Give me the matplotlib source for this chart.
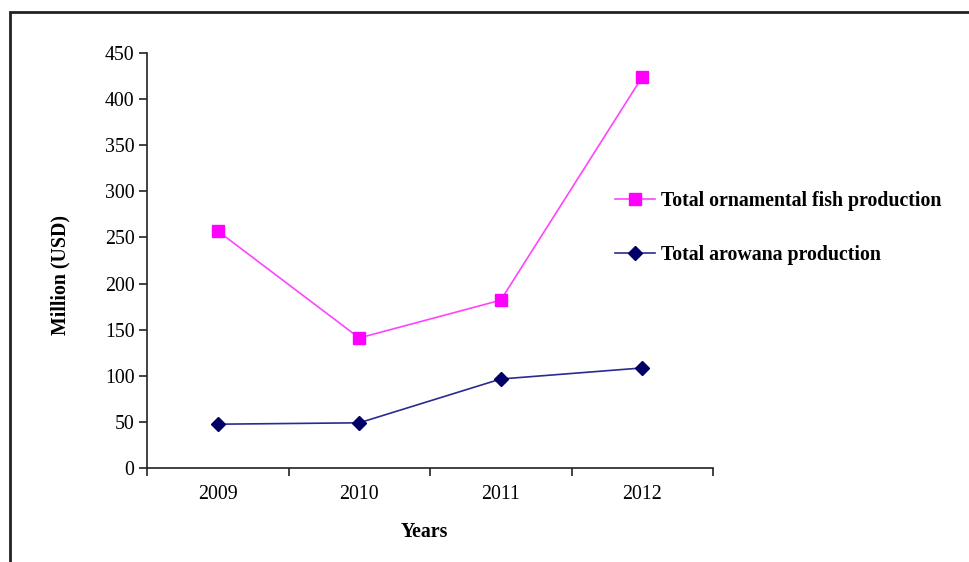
import matplotlib
matplotlib.use("Agg")
import matplotlib.pyplot as plt
from matplotlib.patches import Rectangle

years = ["2009", "2010", "2011", "2012"]
ornamental = [257, 141, 182, 424]
arowana = [47.5, 49, 96.5, 108.5]
series_labels = ["Total ornamental fish production", "Total arowana production"]
y_ticks = [0, 50, 100, 150, 200, 250, 300, 350, 400, 450]

plt.rcParams['font.family'] = ['Liberation Serif', 'DejaVu Serif']
FS = 14.3

fig = plt.figure(figsize=(9.7, 5.62), dpi=100)
ax = fig.add_axes([147/970, 1-468/562, (713-147)/970, (468-53)/562])

# figure border (cut off on right and bottom)
fig.add_artist(Rectangle((10/970, -0.05), 1.1, 1 - 12/562 + 0.05, transform=fig.transFigure,
                         fill=False, edgecolor='#222222', linewidth=2.0, clip_on=False))

x = list(range(len(years)))
l1, = ax.plot(x, ornamental, color='#FF44FF', linewidth=1.2, marker='s', markersize=9,
              markerfacecolor='#FF00FF', markeredgecolor='#FF00FF', label=series_labels[0])
l2, = ax.plot(x, arowana, color='#2A2A90', linewidth=1.2, marker='D', markersize=7,
              markerfacecolor='#000066', markeredgecolor='#000066', label=series_labels[1])

ax.set_xlim(-0.5, len(years) - 0.5)
ax.set_ylim(0, 450)
ax.set_yticks(y_ticks)
ax.set_xticks([i - 0.5 for i in range(len(years) + 1)])
ax.set_xticklabels([])
ax.set_xticks(x, minor=True)
ax.set_xticklabels(years, minor=True)
ax.tick_params(axis='x', which='minor', length=0, pad=12, labelsize=FS)
ax.tick_params(axis='x', which='major', length=6, width=1.2, direction='out', color='#222222')
ax.tick_params(axis='y', length=6, width=1.2, direction='out', color='#222222', labelsize=FS, pad=3)

for s in ['top', 'right']:
    ax.spines[s].set_visible(False)
for s in ['left', 'bottom']:
    ax.spines[s].set_linewidth(1.2)
    ax.spines[s].set_color('#222222')

fig.text(60/970, 1 - 275/562, "Million (USD)", rotation=90, ha='center', va='center',
         fontsize=FS, fontweight='bold')
fig.text(424/970, 1 - 532/562, "Years", ha='center', va='center', fontsize=FS, fontweight='bold')

leg = fig.legend(handles=[l1, l2], loc='center left', bbox_to_anchor=(615/970, 1 - 228/562),
                 frameon=False, prop={'weight': 'bold', 'size': FS}, handlelength=2.0,
                 handletextpad=0.3, labelspacing=1.75, borderaxespad=0, borderpad=0)

fig.savefig("out.png", dpi=100, facecolor='white')
